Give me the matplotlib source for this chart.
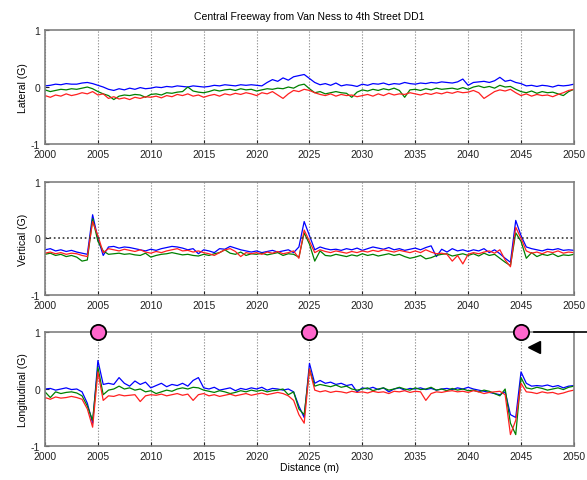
import matplotlib
matplotlib.use('Agg')
import matplotlib.pyplot as plt

plt.rcParams['font.family'] = ['Liberation Sans', 'DejaVu Sans']
plt.rcParams['axes.unicode_minus'] = False

# distance along the freeway (m), 0.5 m sampling
distance = [
    2000.0, 2000.5, 2001.0, 2001.5, 2002.0, 2002.5, 2003.0, 2003.5, 2004.0, 2004.5,
    2005.0, 2005.5, 2006.0, 2006.5, 2007.0, 2007.5, 2008.0, 2008.5, 2009.0, 2009.5,
    2010.0, 2010.5, 2011.0, 2011.5, 2012.0, 2012.5, 2013.0, 2013.5, 2014.0, 2014.5,
    2015.0, 2015.5, 2016.0, 2016.5, 2017.0, 2017.5, 2018.0, 2018.5, 2019.0, 2019.5,
    2020.0, 2020.5, 2021.0, 2021.5, 2022.0, 2022.5, 2023.0, 2023.5, 2024.0, 2024.5,
    2025.0, 2025.5, 2026.0, 2026.5, 2027.0, 2027.5, 2028.0, 2028.5, 2029.0, 2029.5,
    2030.0, 2030.5, 2031.0, 2031.5, 2032.0, 2032.5, 2033.0, 2033.5, 2034.0, 2034.5,
    2035.0, 2035.5, 2036.0, 2036.5, 2037.0, 2037.5, 2038.0, 2038.5, 2039.0, 2039.5,
    2040.0, 2040.5, 2041.0, 2041.5, 2042.0, 2042.5, 2043.0, 2043.5, 2044.0, 2044.5,
    2045.0, 2045.5, 2046.0, 2046.5, 2047.0, 2047.5, 2048.0, 2048.5, 2049.0, 2049.5,
    2050.0,
]

# lateral acceleration (G)
lat_blue = [
    0.02, 0.03, 0.05, 0.04, 0.06, 0.05, 0.05, 0.07, 0.08, 0.06,
    0.03, 0.00, -0.04, -0.06, -0.03, -0.05, -0.02, -0.04, -0.01, -0.03,
    -0.02, 0.00, -0.01, 0.01, 0.00, 0.02, 0.01, 0.00, 0.02, 0.01,
    0.00, 0.01, 0.03, 0.02, 0.04, 0.03, 0.02, 0.04, 0.03, 0.04,
    0.03, 0.02, 0.08, 0.13, 0.10, 0.16, 0.12, 0.18, 0.20, 0.22,
    0.15, 0.08, 0.04, 0.06, 0.03, 0.07, 0.02, 0.04, 0.03, 0.01,
    0.05, 0.03, 0.06, 0.05, 0.07, 0.04, 0.06, 0.05, 0.08, 0.06,
    0.05, 0.07, 0.06, 0.08, 0.07, 0.09, 0.08, 0.07, 0.09, 0.14,
    0.03, 0.08, 0.09, 0.10, 0.08, 0.11, 0.17, 0.10, 0.12, 0.08,
    0.06, 0.02, 0.03, 0.01, 0.03, 0.02, 0.00, 0.03, 0.02, 0.03,
    0.05,
]
lat_green = [
    -0.05, -0.08, -0.06, -0.04, -0.05, -0.03, -0.04, -0.02, 0.00, -0.03,
    -0.08, -0.12, -0.15, -0.22, -0.16, -0.14, -0.15, -0.13, -0.14, -0.18,
    -0.13, -0.12, -0.14, -0.10, -0.11, -0.09, -0.08, 0.00, -0.07, -0.09,
    -0.10, -0.08, -0.05, -0.07, -0.05, -0.04, -0.06, -0.03, -0.05, -0.04,
    -0.07, -0.05, -0.03, -0.04, -0.02, -0.03, 0.00, -0.02, 0.03, 0.05,
    -0.03, -0.10, -0.08, -0.12, -0.10, -0.08, -0.10, -0.11, -0.18, -0.09,
    -0.05, -0.07, -0.04, -0.06, -0.03, -0.05, -0.02, -0.06, -0.18, -0.05,
    -0.04, -0.06, -0.03, -0.05, -0.02, -0.04, -0.03, -0.02, -0.04, -0.01,
    -0.04, 0.00, 0.02, -0.01, 0.01, -0.02, 0.03, 0.00, 0.01, -0.04,
    -0.08, -0.10, -0.07, -0.11, -0.08, -0.10, -0.09, -0.12, -0.15, -0.08,
    -0.04,
]
lat_red = [
    -0.15, -0.18, -0.14, -0.16, -0.12, -0.15, -0.13, -0.10, -0.12, -0.08,
    -0.14, -0.12, -0.20, -0.17, -0.21, -0.19, -0.22, -0.18, -0.20, -0.17,
    -0.18, -0.16, -0.19, -0.15, -0.17, -0.13, -0.15, -0.12, -0.16, -0.14,
    -0.18, -0.15, -0.13, -0.16, -0.12, -0.14, -0.11, -0.13, -0.10, -0.12,
    -0.15, -0.10, -0.12, -0.08, -0.14, -0.20, -0.12, -0.06, -0.08, -0.04,
    -0.06, -0.10, -0.13, -0.15, -0.12, -0.16, -0.13, -0.15, -0.14, -0.17,
    -0.15, -0.13, -0.16, -0.12, -0.15, -0.11, -0.14, -0.12, -0.13, -0.10,
    -0.12, -0.14, -0.11, -0.13, -0.10, -0.12, -0.09, -0.11, -0.08, -0.10,
    -0.09, -0.06, -0.10, -0.20, -0.14, -0.08, -0.05, -0.07, -0.04, -0.10,
    -0.15, -0.12, -0.16, -0.13, -0.15, -0.14, -0.17, -0.13, -0.10, -0.06,
    -0.04,
]

# vertical acceleration (G)
vert_blue = [
    -0.20, -0.18, -0.22, -0.20, -0.23, -0.21, -0.24, -0.26, -0.28, 0.42,
    0.00, -0.30, -0.15, -0.14, -0.17, -0.15, -0.16, -0.18, -0.20, -0.22,
    -0.19, -0.21, -0.18, -0.16, -0.14, -0.15, -0.17, -0.20, -0.18, -0.27,
    -0.20, -0.22, -0.25, -0.18, -0.19, -0.14, -0.17, -0.20, -0.22, -0.24,
    -0.22, -0.25, -0.23, -0.21, -0.24, -0.22, -0.20, -0.25, -0.15, 0.30,
    0.05, -0.20, -0.15, -0.18, -0.20, -0.19, -0.21, -0.18, -0.20, -0.17,
    -0.21, -0.18, -0.15, -0.17, -0.19, -0.16, -0.20, -0.18, -0.21, -0.19,
    -0.17, -0.20, -0.16, -0.13, -0.32, -0.19, -0.24, -0.18, -0.22, -0.20,
    -0.23, -0.20, -0.22, -0.18, -0.25, -0.20, -0.27, -0.35, -0.42, 0.32,
    0.05, -0.15, -0.18, -0.20, -0.22, -0.19, -0.20, -0.18, -0.21, -0.20,
    -0.21,
]
vert_green = [
    -0.28, -0.26, -0.30, -0.28, -0.32, -0.30, -0.33, -0.40, -0.38, 0.35,
    -0.05, -0.22, -0.28, -0.27, -0.26, -0.28, -0.27, -0.29, -0.30, -0.26,
    -0.33, -0.30, -0.28, -0.27, -0.25, -0.27, -0.29, -0.28, -0.30, -0.31,
    -0.28, -0.30, -0.27, -0.25, -0.20, -0.26, -0.28, -0.24, -0.30, -0.27,
    -0.28, -0.26, -0.29, -0.27, -0.25, -0.30, -0.27, -0.28, -0.33, 0.10,
    -0.10, -0.40, -0.22, -0.30, -0.31, -0.28, -0.30, -0.32, -0.29, -0.31,
    -0.27, -0.30, -0.28, -0.31, -0.29, -0.27, -0.30, -0.28, -0.32, -0.35,
    -0.33, -0.30, -0.36, -0.34, -0.30, -0.28, -0.27, -0.31, -0.29, -0.27,
    -0.30, -0.27, -0.31, -0.26, -0.30, -0.28, -0.35, -0.42, -0.48, 0.10,
    -0.05, -0.35, -0.25, -0.32, -0.28, -0.30, -0.27, -0.32, -0.29, -0.30,
    -0.28,
]
vert_red = [
    -0.26, -0.24, -0.27, -0.25, -0.28, -0.26, -0.27, -0.30, -0.32, 0.30,
    0.05, -0.25, -0.18, -0.20, -0.22, -0.19, -0.21, -0.23, -0.20, -0.24,
    -0.26, -0.23, -0.25, -0.22, -0.20, -0.18, -0.22, -0.21, -0.24, -0.22,
    -0.25, -0.27, -0.30, -0.25, -0.20, -0.18, -0.23, -0.32, -0.25, -0.27,
    -0.25, -0.28, -0.24, -0.26, -0.23, -0.27, -0.25, -0.22, -0.35, 0.15,
    -0.05, -0.25, -0.20, -0.23, -0.25, -0.22, -0.24, -0.26, -0.23, -0.25,
    -0.22, -0.24, -0.21, -0.23, -0.20, -0.22, -0.24, -0.21, -0.23, -0.25,
    -0.22, -0.25, -0.20, -0.24, -0.27, -0.26, -0.28, -0.40, -0.30, -0.45,
    -0.28, -0.25, -0.27, -0.24, -0.22, -0.26, -0.20, -0.38, -0.50, 0.20,
    0.00, -0.22, -0.26, -0.24, -0.27, -0.23, -0.25, -0.22, -0.26, -0.24,
    -0.25,
]

# longitudinal acceleration (G)
long_blue = [
    0.00, 0.01, -0.02, 0.00, 0.02, -0.01, 0.00, -0.05, -0.25, -0.60,
    0.50, 0.08, 0.10, 0.08, 0.20, 0.10, 0.05, 0.14, 0.08, 0.12,
    0.02, 0.06, 0.10, 0.04, 0.08, 0.06, 0.10, 0.05, 0.15, 0.20,
    0.02, 0.00, 0.03, -0.02, 0.00, 0.02, -0.03, 0.01, -0.01, 0.02,
    0.00, 0.03, -0.02, 0.01, 0.00, -0.02, 0.00, -0.05, -0.30, -0.50,
    0.45, 0.10, 0.15, 0.10, 0.12, 0.08, 0.10, 0.06, 0.08, -0.05,
    0.02, 0.00, 0.03, -0.01, 0.02, -0.05, 0.00, 0.02, -0.02, 0.01,
    0.00, 0.02, -0.01, 0.01, -0.02, 0.00, 0.01, -0.01, 0.02, 0.00,
    0.03, 0.00, -0.02, -0.04, -0.06, -0.08, -0.10, -0.05, -0.45, -0.50,
    0.30, 0.10, 0.05, 0.06, 0.05, 0.07, 0.04, 0.06, 0.02, 0.05,
    0.06,
]
long_green = [
    -0.05, -0.15, -0.05, -0.08, -0.06, -0.05, -0.07, -0.12, -0.30, -0.55,
    0.38, -0.10, -0.02, 0.00, 0.05, 0.00, 0.02, -0.02, 0.00, -0.05,
    -0.03, -0.08, -0.05, -0.02, -0.04, 0.00, 0.02, 0.00, 0.03, 0.02,
    -0.02, -0.04, -0.06, -0.03, -0.05, -0.08, -0.06, -0.03, -0.05, -0.02,
    -0.04, -0.02, -0.05, -0.03, -0.02, 0.00, -0.10, -0.05, -0.35, -0.45,
    0.35, 0.05, 0.08, 0.06, 0.04, 0.07, 0.03, 0.05, 0.00, -0.02,
    0.00, 0.02, -0.03, 0.00, 0.02, -0.02, 0.00, 0.03, 0.00, -0.02,
    0.02, -0.01, 0.00, 0.03, -0.02, 0.00, -0.03, 0.01, -0.02, 0.00,
    -0.03, -0.02, -0.05, -0.02, -0.04, -0.08, -0.12, 0.00, -0.60, -0.80,
    0.20, 0.02, 0.00, 0.03, 0.01, -0.02, 0.00, 0.02, -0.01, 0.03,
    0.05,
]
long_red = [
    -0.15, -0.18, -0.14, -0.16, -0.15, -0.13, -0.15, -0.18, -0.35, -0.67,
    0.30, -0.20, -0.12, -0.13, -0.10, -0.12, -0.11, -0.10, -0.22, -0.12,
    -0.10, -0.11, -0.09, -0.12, -0.10, -0.08, -0.11, -0.09, -0.20, -0.10,
    -0.08, -0.12, -0.10, -0.13, -0.11, -0.09, -0.12, -0.10, -0.08, -0.11,
    -0.09, -0.07, -0.10, -0.08, -0.06, -0.08, -0.12, -0.20, -0.45, -0.60,
    0.35, -0.02, -0.05, -0.03, -0.06, -0.04, -0.05, -0.07, -0.04, -0.06,
    -0.05, -0.07, -0.04, -0.06, -0.05, -0.08, -0.04, -0.05, -0.03, -0.06,
    -0.04, -0.05, -0.20, -0.08, -0.05, -0.06, -0.04, -0.03, -0.05, -0.04,
    -0.06, -0.03, -0.05, -0.08, -0.06, -0.05, -0.04, -0.10, -0.80, -0.55,
    0.10, -0.05, -0.06, -0.08, -0.05, -0.07, -0.06, -0.09, -0.07, -0.04,
    -0.02,
]

# marked events on the longitudinal panel
event_positions = [2005, 2025, 2045]

x_ticks = [2000, 2005, 2010, 2015, 2020, 2025, 2030, 2035, 2040, 2045, 2050]
y_ticks = [-1, 0, 1]

panels = [
    ('Lateral (G)', lat_blue, lat_green, lat_red),
    ('Vertical (G)', vert_blue, vert_green, vert_red),
    ('Longitudinal (G)', long_blue, long_green, long_red),
]
# axes boxes in figure fractions [left, bottom, width, height]
boxes = [
    [0.0767, 0.6985, 0.901, 0.237],
    [0.0767, 0.3846, 0.901, 0.235],
    [0.0767, 0.0707, 0.901, 0.237],
]

fig = plt.figure(figsize=(5.87, 4.81), dpi=100)
axes = []
for (label, blue, green, red), box in zip(panels, boxes):
    ax = fig.add_axes(box)
    ax.plot(distance, blue, color='#0000ff', lw=0.9)
    ax.plot(distance, green, color='#008000', lw=0.9)
    ax.plot(distance, red, color='#ff2020', lw=0.9)
    ax.set_xlim(2000, 2050)
    ax.set_ylim(-1, 1)
    ax.set_xticks(x_ticks)
    ax.set_yticks(y_ticks)
    ax.grid(axis='x', color='#808080', linestyle=':', linewidth=0.8)
    ax.tick_params(direction='in', labelsize=7.5, colors='#222222', length=3)
    for s in ax.spines.values():
        s.set_color('#808080')
        s.set_linewidth(1.2)
    ax.set_ylabel(label, fontsize=7.5, labelpad=2)
    axes.append(ax)

axes[0].set_title('Central Freeway from Van Ness to 4th Street DD1', fontsize=7.5, pad=8)
axes[1].axhline(0, color='#333333', linestyle=':', linewidth=1.2)
axes[2].set_xlabel('Distance (m)', fontsize=7.5, labelpad=1)

ax = axes[2]
ax.plot(event_positions, [1, 1, 1], linestyle='none', marker='o', markersize=11,
        markerfacecolor='#ff66cc', markeredgecolor='black', markeredgewidth=1.3,
        clip_on=False, zorder=5)
ax.plot([2046.2, 2051.3], [1, 1], color='black', lw=1.2, clip_on=False, zorder=5)
ax.plot([2046.2], [0.74], linestyle='none', marker='<', markersize=8,
        color='black', clip_on=False, zorder=5)

fig.savefig('out.png', dpi=100)
